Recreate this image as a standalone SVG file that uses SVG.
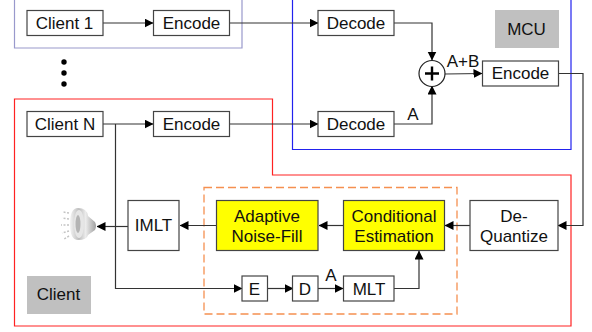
<svg xmlns="http://www.w3.org/2000/svg" width="592" height="332" viewBox="0 0 592 332">
<style>
text{font-family:"Liberation Sans",Arial,sans-serif;font-size:17px;fill:#111;text-anchor:middle}
.b{fill:#fff;stroke:#444;stroke-width:1.2}
.y{fill:#ff0;stroke:#444;stroke-width:1.2}
.g{fill:#c0c0c0}
.c{fill:none;stroke:#333;stroke-width:1.2}
</style>
<defs>
<marker id="a" markerUnits="userSpaceOnUse" markerWidth="9" markerHeight="10" refX="8.5" refY="4.5" orient="auto"><path d="M0 0L9 4.5L0 9z" fill="#000"/></marker>
<linearGradient id="sp" x1="0" y1="0" x2="1" y2="0"><stop offset="0" stop-color="#f4f4f4"/><stop offset=".35" stop-color="#bdbdbd"/><stop offset=".6" stop-color="#ececec"/><stop offset="1" stop-color="#a0a0a0"/></linearGradient>
</defs>
<rect width="592" height="332" fill="#fff"/>
<g id="group-client1"><path d="M14.500 -2V48H242V-2" fill="none" stroke="#9999cc" stroke-width="1.200"/></g>
<g id="group-mcu"><path d="M292.500 -2V149.500H571V-2" fill="none" stroke="#2222ee" stroke-width="1.200"/></g>
<g id="group-clientN"><path d="M14.500 99H272.500V175H571V326H14.500z" fill="none" stroke="#f22" stroke-width="1.200"/></g>
<g id="group-dashed"><rect x="204" y="187.500" width="253" height="126.500" fill="none" stroke="#f59050" stroke-width="1.300" stroke-dasharray="8 4"/></g>
<g id="connectors">
<path class="c" d="M103 23H153" marker-end="url(#a)"/>
<path class="c" d="M229 23H318" marker-end="url(#a)"/>
<path class="c" d="M103 124H153" marker-end="url(#a)"/>
<path class="c" d="M229 124H318" marker-end="url(#a)"/>
<path class="c" d="M394 23H432V60" marker-end="url(#a)"/>
<path class="c" d="M394 124H432V86" marker-end="url(#a)"/>
<path class="c" d="M445 74L482 73.500" marker-end="url(#a)"/>
<path class="c" d="M558 73.500H583V225.500H558" marker-end="url(#a)"/>
<path class="c" d="M470 225.500H445" marker-end="url(#a)"/>
<path class="c" d="M343 225.500H319" marker-end="url(#a)"/>
<path class="c" d="M216.500 225.500H180" marker-end="url(#a)"/>
<path class="c" d="M128 226.500H97" marker-end="url(#a)"/>
<path class="c" d="M115.500 124V288.500H242" marker-end="url(#a)"/>
<path class="c" d="M267.500 288.500H293" marker-end="url(#a)"/>
<path class="c" d="M318 288.500H343" marker-end="url(#a)"/>
<path class="c" d="M394 288.500H419V251" marker-end="url(#a)"/>
</g>
<g id="client1"><rect class="b" x="27" y="10.500" width="76" height="25"/><text x="64.500" y="29">Client 1</text></g>
<g id="encode1"><rect class="b" x="153.500" y="10.500" width="76" height="25"/><text x="191.500" y="29">Encode</text></g>
<g id="dots"><circle cx="64" cy="62" r="2.700"/><circle cx="64" cy="73" r="2.700"/><circle cx="64" cy="84" r="2.700"/></g>
<g id="clientN"><rect class="b" x="27" y="111.500" width="76" height="25"/><text x="65" y="130">Client N</text></g>
<g id="encodeN"><rect class="b" x="153.500" y="111.500" width="76" height="25"/><text x="191.500" y="130">Encode</text></g>
<g id="decode1"><rect class="b" x="318" y="10.500" width="76" height="25"/><text x="356" y="29">Decode</text></g>
<g id="decode2"><rect class="b" x="318" y="111.500" width="76" height="25"/><text x="356" y="130">Decode</text></g>
<g id="mcu-label"><rect class="g" x="495" y="10" width="64" height="38"/><text x="526.500" y="35" fill="#222">MCU</text></g>
<g id="adder"><circle cx="432" cy="73.500" r="13" fill="#fff" stroke="#222" stroke-width="1.200"/><path d="M425 73.500H439M432 66.500V80.500" stroke="#000" stroke-width="2.400"/></g>
<g id="encode-mcu"><rect class="b" x="482.500" y="61" width="76" height="25"/><text x="520.500" y="79">Encode</text></g>
<text x="463" y="66.500">A+B</text>
<text x="413" y="120">A</text>
<g id="dequantize"><rect class="b" x="470" y="200.500" width="88" height="50"/><text x="514" y="221.500">De-</text><text x="514" y="241.500">Quantize</text></g>
<g id="conditional"><rect class="y" x="343.500" y="200.500" width="101" height="50"/><text x="394" y="221.500">Conditional</text><text x="394" y="241.500">Estimation</text></g>
<g id="adaptive"><rect class="y" x="216.500" y="200.500" width="101.500" height="50"/><text x="267" y="221.500">Adaptive</text><text x="267" y="241.500">Noise-Fill</text></g>
<g id="imlt"><rect class="b" x="128" y="200.500" width="51" height="50"/><text x="153.500" y="231">IMLT</text></g>
<g id="e"><rect class="b" x="242" y="276" width="25.500" height="25"/><text x="254.500" y="294.500">E</text></g>
<g id="d"><rect class="b" x="292.500" y="276" width="25.500" height="25"/><text x="305" y="294.500">D</text></g>
<text x="331" y="281">A</text>
<g id="mlt"><rect class="b" x="343.500" y="276" width="50.500" height="25"/><text x="369" y="294.500">MLT</text></g>
<g id="client-label"><rect class="g" x="27" y="276" width="64" height="38"/><text x="58.500" y="300" fill="#222">Client</text></g>
<g id="speaker">
<path d="M78 208Q87 208 88 216L95 222Q97 226 95 230L88 235Q87 240 78 240Q70 240 70 224Q70 208 78 208z" fill="url(#sp)"/>
<ellipse cx="79" cy="224" rx="5" ry="14" fill="#e6e6e6"/>
<ellipse cx="78" cy="224" rx="2.500" ry="9" fill="#b4b4b4"/>
<path d="M69 213L63 212M69 219L62 218M69 225L61 225M69 231L62 233M69 236L64 239" stroke="#c4c4c4" stroke-width="1.500" stroke-dasharray="2 1.500"/>
</g>
</svg>
